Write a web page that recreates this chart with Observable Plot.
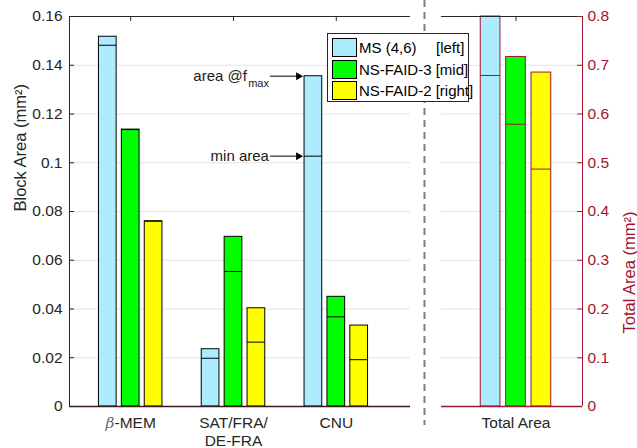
<!DOCTYPE html>
<html><head><meta charset="utf-8">
<script src="https://cdn.jsdelivr.net/npm/d3@7"></script>
<script src="https://cdn.jsdelivr.net/npm/@observablehq/plot@0.6"></script>
<style>
body{margin:0;background:#fff;}
#wrap{position:relative;width:637px;height:448px;font-family:"Liberation Sans",Arial,Helvetica,sans-serif;}
#legend{position:absolute;left:327px;top:33px;width:140px;height:67px;border:1px solid #262626;background:#fff;font-size:15px;color:#000;}
.row{position:absolute;left:4px;height:19px;width:134px;}
.sw{position:absolute;left:0;top:0;width:23px;height:17px;border:1px solid #000;}
.lab{position:absolute;left:27px;top:0;line-height:19px;white-space:nowrap;}
.tag{position:absolute;left:104px;top:0;line-height:19px;white-space:nowrap;}
</style></head><body><div id="wrap"></div>
<script>
// ---- data ----
const categories = ["β-MEM", "SAT/FRA/\nDE-FRA", "CNU"];
const totalCategory = "Total Area";
const seriesNames = ["MS (4,6)", "NS-FAID-3", "NS-FAID-2"];
const seriesTags = ["[left]", "[mid]", "[right]"];
const seriesColors = ["#ADEBFF", "#00FF00", "#FFFF00"];
const msMax    = [0.1517, 0.0235, 0.1355];
const msMin    = [0.1482, 0.0198, 0.1027];
const faid3Max = [0.1136, 0.0696, 0.0450];
const faid3Min = [0.1136, 0.0554, 0.0368];
const faid2Max = [0.0760, 0.0403, 0.0332];
const faid2Min = [0.0760, 0.0264, 0.0192];
const totalMax = [0.800, 0.717, 0.685];
const totalMin = [0.679, 0.579, 0.487];
const leftTicks  = [0, 0.02, 0.04, 0.06, 0.08, 0.1, 0.12, 0.14, 0.16];
const rightTicks = [0, 0.1, 0.2, 0.3, 0.4, 0.5, 0.6, 0.7, 0.8];
const annLabels = ["area @f", "min area"];
const annSub = "max";

// ---- layout ----
const W = 637, H = 448, mL = 69, mR = 55, mT = 16, mB = 42;
const crimson = "#A2142F", axisCol = "#262626";
const ratio = rightTicks[rightTicks.length-1] / leftTicks[leftTicks.length-1];
const yMax = leftTicks[leftTicks.length-1];
const catPos = [1, 2, 3];
const totalPos = 4.748;
const xDomain = [0.4047, 5.395];
const pxX = (W - mL - mR) / (xDomain[1] - xDomain[0]);
const pxY = (H - mT - mB) / yMax;
const leftEnd = 3.722, rightStart = 4.023, sepX = 3.858;
const off = 22.9 / pxX, bw = 17.7 / pxX;
const offT = 25.4 / pxX, bwT = 19.7 / pxX;
const tickLx = 5 / pxX, tickLy = 5 / pxY;

const maxes = [msMax, faid3Max, faid2Max], mins = [msMin, faid3Min, faid2Min];
const rows = [];
categories.forEach((c, i) => seriesNames.forEach((s, j) => {
  const cx = catPos[i] + (j - 1) * off;
  rows.push({x1: cx - bw/2, x2: cx + bw/2, max: maxes[j][i], min: mins[j][i], color: seriesColors[j]});
}));
const totalRows = seriesNames.map((s, j) => {
  const cx = totalPos + (j - 1) * offT;
  return {x1: cx - bwT/2, x2: cx + bwT/2, max: totalMax[j] / ratio, min: totalMin[j] / ratio, color: seriesColors[j]};
});
const xTip = catPos[2] - off - bw/2 - 0.6 / pxX;
const xTail = xTip - 34 / pxX;
const xHead = xTip - 5 / pxX;
const ann = [{label: annLabels[0], sub: annSub, y: msMax[2]}, {label: annLabels[1], y: msMin[2]}];

const xLabels = new Map([...catPos.map((p, i) => [p, categories[i]]), [totalPos, totalCategory]]);
const xs = [...catPos, totalPos];
const gridVals = leftTicks.slice(1, -1);
const fmt = d => String(+d.toFixed(3));

const plot = Plot.plot({
  width: W, height: H,
  marginLeft: mL, marginRight: mR, marginTop: mT, marginBottom: mB,
  style: {fontFamily: '"Liberation Sans", Arial, Helvetica, sans-serif', fontSize: "15.5px", color: axisCol, background: "#fff"},
  x: {domain: xDomain, axis: null},
  y: {domain: [0, yMax], axis: null},
  color: {type: "identity"},
  marks: [
    // grid
    Plot.ruleY(gridVals, {x1: xDomain[0], x2: leftEnd, stroke: "#e3e3e3", strokeWidth: 1}),
    Plot.ruleY(gridVals, {x1: rightStart, x2: xDomain[1], stroke: "#e3e3e3", strokeWidth: 1}),
    // bars
    Plot.rect(rows, {x1: "x1", x2: "x2", y1: 0, y2: "max", fill: "color", stroke: "#000", strokeWidth: 1}),
    Plot.ruleY(rows, {x1: "x1", x2: "x2", y: "min", stroke: "#000", strokeWidth: 1}),
    Plot.rect(totalRows, {x1: "x1", x2: "x2", y1: 0, y2: "max", fill: "color", stroke: crimson, strokeWidth: 1}),
    Plot.ruleY(totalRows, {x1: "x1", x2: "x2", y: "min", stroke: crimson, strokeWidth: 1}),
    // frame
    Plot.ruleX([xDomain[0]], {y1: 0, y2: yMax, stroke: axisCol}),
    Plot.ruleX([xDomain[1]], {y1: 0, y2: yMax, stroke: crimson}),
    Plot.ruleY([yMax], {x1: xDomain[0], x2: leftEnd, stroke: axisCol}),
    Plot.ruleY([yMax], {x1: rightStart, x2: xDomain[1], stroke: axisCol}),
    Plot.ruleY([0], {x1: xDomain[0], x2: leftEnd, stroke: "#3b1a1f", strokeWidth: 1.3}),
    Plot.ruleY([0], {x1: rightStart, x2: xDomain[1], stroke: crimson, strokeWidth: 1.3}),
    // inward ticks
    Plot.ruleX(xs, {y1: yMax, y2: yMax - tickLy, stroke: axisCol}),
    Plot.ruleY(leftTicks, {x1: xDomain[0], x2: xDomain[0] + tickLx, stroke: axisCol}),
    Plot.ruleY(rightTicks.map(v => v / ratio), {x1: xDomain[1] - tickLx, x2: xDomain[1], stroke: crimson}),
    // separator
    Plot.ruleX([sepX], {y1: yMax + 16 / pxY, y2: -19 / pxY, stroke: "#7f7f7f", strokeWidth: 2, strokeDasharray: "7,5"}),
    // annotations
    Plot.link(ann, {x1: () => xTail, x2: () => xHead, y1: "y", y2: "y", stroke: "#3a3a3a", strokeWidth: 1.3}),
    Plot.dot(ann, {x: () => xTip, y: "y", symbol: "triangle2", rotate: 90, r: 3.8, fill: "#000", stroke: "none", dx: -5.5}),
    Plot.text([ann[0]], {x: () => xTail, y: "y", text: "label", textAnchor: "end", dx: -23, fill: "#1a1a1a", fontSize: 15}),
    Plot.text([ann[0]], {x: () => xTail, y: "y", text: "sub", textAnchor: "end", dx: -1, dy: 7, fill: "#1a1a1a", fontSize: 11}),
    Plot.text([ann[1]], {x: () => xTail, y: "y", text: "label", textAnchor: "end", dx: -1, fill: "#1a1a1a", fontSize: 15}),
    // axes
    Plot.axisY({anchor: "left", ticks: leftTicks, tickFormat: fmt, tickSize: 0, tickPadding: 7, color: axisCol, label: null}),
    Plot.axisY({anchor: "right", ticks: rightTicks.map(v => v / ratio), tickFormat: d => fmt(d * ratio), tickSize: 0, tickPadding: 5, color: crimson, label: null}),
    Plot.axisX({anchor: "bottom", ticks: xs, tickFormat: d => xLabels.get(d), tickSize: 0, tickPadding: 9, lineHeight: 1.15, color: axisCol, label: null}),
    Plot.text(["Block Area (mm²)"], {frameAnchor: "left", rotate: -90, dx: -49, fill: axisCol, fontSize: 16.5}),
    Plot.text(["Total Area (mm²)"], {frameAnchor: "right", rotate: -90, dx: 47, fill: crimson, fontSize: 16.5})
  ]
});

// italic beta in first category label
d3.select(plot).selectAll("text").filter(function() { return this.textContent === "β-MEM"; }).each(function() {
  const t = d3.select(this);
  t.text("");
  t.append("tspan").attr("font-style", "italic").attr("font-family", "'DejaVu Serif', serif").attr("fill", "#6a6a6a").text("β");
  t.append("tspan").text("-MEM");
});

const wrap = document.getElementById("wrap");
wrap.appendChild(plot);

// legend
const lg = document.createElement("div");
lg.id = "legend";
seriesNames.forEach((s, j) => {
  const r = document.createElement("div");
  r.className = "row";
  r.style.top = [4, 26, 47][j] + "px";
  const sw = document.createElement("div"); sw.className = "sw"; sw.style.background = seriesColors[j];
  const lb = document.createElement("div"); lb.className = "lab";
  lb.textContent = j === 0 ? s : s + " " + seriesTags[j];
  r.appendChild(sw); r.appendChild(lb);
  if (j === 0) { const tg = document.createElement("div"); tg.className = "tag"; tg.textContent = seriesTags[0]; r.appendChild(tg); }
  lg.appendChild(r);
});
wrap.appendChild(lg);
</script></body></html>
